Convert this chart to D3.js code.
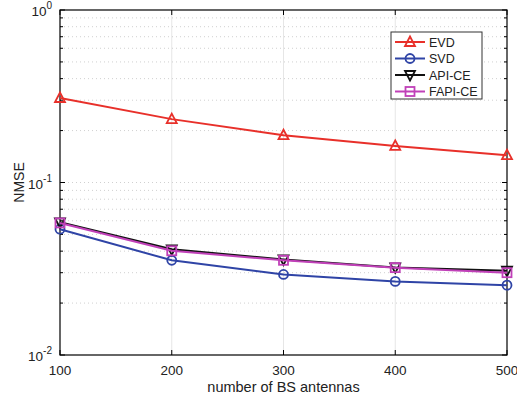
<!DOCTYPE html>
<html>
<head>
<meta charset="utf-8">
<script src="https://d3js.org/d3.v7.min.js"></script>
<style>
  body { margin: 0; background: #fff; }
  text { font-family: "Liberation Sans", Arial, sans-serif; }
</style>
</head>
<body>
<div id="chart"></div>
<script>
// data
var antennas = [100, 200, 300, 400, 500];
var evd   = [0.309, 0.233, 0.188, 0.163, 0.144];
var svd   = [0.0536, 0.0354, 0.0293, 0.0267, 0.0254];
var apice = [0.0588, 0.0410, 0.0358, 0.0322, 0.0308];
var fapi  = [0.0583, 0.0402, 0.0354, 0.0321, 0.0300];
var seriesNames = ["EVD", "SVD", "API-CE", "FAPI-CE"];
var xTicks = [100, 200, 300, 400, 500];
var yTicks = [1e-2, 1e-1, 1];
var yTickLabels = [["10", "-2"], ["10", "-1"], ["10", "0"]];

var W = 517, H = 398;
var margin = {top: 10, right: 10, bottom: 43, left: 60};
var width = W - margin.left - margin.right,
    height = H - margin.top - margin.bottom;

var svg = d3.select("#chart").append("svg")
  .attr("width", W).attr("height", H);
var g = svg.append("g")
  .attr("transform", "translate(" + margin.left + "," + margin.top + ")");

var x = d3.scaleLinear().domain([100, 500]).range([0, width]);
var y = d3.scaleLog().domain([1e-2, 1]).range([height, 0]);

// minor log ticks
var minor = [];
[1e-2, 1e-1].forEach(function(d) {
  for (var k = 2; k <= 9; k++) minor.push(d * k);
});

// grid
g.selectAll(".vgrid").data(xTicks.slice(1, -1)).enter().append("line")
  .attr("x1", function(d) { return x(d); }).attr("x2", function(d) { return x(d); })
  .attr("y1", 0).attr("y2", height)
  .attr("stroke", "#e6e6e6").attr("stroke-width", 1);
g.selectAll(".hgrid").data(minor.concat([1e-1])).enter().append("line")
  .attr("x1", 0).attr("x2", width)
  .attr("y1", function(d) { return y(d); }).attr("y2", function(d) { return y(d); })
  .attr("stroke", "#d0d0d0").attr("stroke-width", 1).attr("stroke-dasharray", "1,3");

// box with ticks
g.append("rect").attr("x", 0).attr("y", 0).attr("width", width).attr("height", height)
  .attr("fill", "none").attr("stroke", "#000").attr("stroke-width", 1.2);

var majorLen = 5, minorLen = 3;
xTicks.forEach(function(d) {
  g.append("line").attr("x1", x(d)).attr("x2", x(d)).attr("y1", height).attr("y2", height - majorLen).attr("stroke", "#000");
  g.append("line").attr("x1", x(d)).attr("x2", x(d)).attr("y1", 0).attr("y2", majorLen).attr("stroke", "#000");
});
minor.concat(yTicks).forEach(function(d) {
  var len = yTicks.indexOf(d) >= 0 ? majorLen : minorLen;
  g.append("line").attr("x1", 0).attr("x2", len).attr("y1", y(d)).attr("y2", y(d)).attr("stroke", "#000");
  g.append("line").attr("x1", width).attr("x2", width - len).attr("y1", y(d)).attr("y2", y(d)).attr("stroke", "#000");
});

// tick labels
g.selectAll(".xlab").data(xTicks).enter().append("text")
  .attr("x", function(d) { return x(d); })
  .attr("y", height + 20)
  .attr("text-anchor", "middle")
  .attr("font-size", 13.5).attr("fill", "#222")
  .text(function(d) { return d; });

yTicks.forEach(function(d, i) {
  var t = g.append("text")
    .attr("x", -8).attr("y", y(d) + 6)
    .attr("text-anchor", "end")
    .attr("font-size", 13.5).attr("fill", "#222");
  t.append("tspan").text(yTickLabels[i][0]);
  t.append("tspan").attr("dy", -7).attr("font-size", 10).text(yTickLabels[i][1]);
});

// axis titles
svg.append("text")
  .attr("x", margin.left + width / 2).attr("y", H - 6)
  .attr("text-anchor", "middle").attr("font-size", 14.5).attr("fill", "#222")
  .text("number of BS antennas");
svg.append("text")
  .attr("transform", "translate(24," + (margin.top + y(0.1)) + ")rotate(-90)")
  .attr("text-anchor", "middle").attr("font-size", 14).attr("fill", "#222")
  .text("NMSE");

// series
var colors = ["#e8302a", "#2f44a6", "#111111", "#c040b8"];
var markers = ["tri", "circle", "tridown", "square"];
var allData = [evd, svd, apice, fapi];

function drawMarker(sel, type, cx, cy, color) {
  var s = 4.5;
  if (type == "circle") {
    sel.append("circle").attr("cx", cx).attr("cy", cy).attr("r", 4.5)
      .attr("fill", "none").attr("stroke", color).attr("stroke-width", 1.8);
  } else if (type == "square") {
    sel.append("rect").attr("x", cx - 4.5).attr("y", cy - 4.5).attr("width", 9).attr("height", 9)
      .attr("fill", "none").attr("stroke", color).attr("stroke-width", 1.8);
  } else if (type == "tri") {
    sel.append("path")
      .attr("d", "M" + cx + "," + (cy - s - 1) + "L" + (cx + s + 0.5) + "," + (cy + s - 0.5) + "L" + (cx - s - 0.5) + "," + (cy + s - 0.5) + "Z")
      .attr("fill", "none").attr("stroke", color).attr("stroke-width", 1.8);
  } else {
    sel.append("path")
      .attr("d", "M" + cx + "," + (cy + s + 1) + "L" + (cx + s + 0.5) + "," + (cy - s + 0.5) + "L" + (cx - s - 0.5) + "," + (cy - s + 0.5) + "Z")
      .attr("fill", "none").attr("stroke", color).attr("stroke-width", 1.8);
  }
}

var line = d3.line()
  .x(function(d, i) { return x(antennas[i]); })
  .y(function(d) { return y(d); });

allData.forEach(function(vals, k) {
  g.append("path").datum(vals)
    .attr("d", line)
    .attr("fill", "none").attr("stroke", colors[k]).attr("stroke-width", 2);
  vals.forEach(function(v, i) {
    drawMarker(g, markers[k], x(antennas[i]), y(v), colors[k]);
  });
});

// legend
var lg = svg.append("g").attr("transform", "translate(391,32)");
lg.append("rect").attr("x", 0).attr("y", 0).attr("width", 91).attr("height", 67)
  .attr("fill", "#fff").attr("stroke", "#333").attr("stroke-width", 1);
seriesNames.forEach(function(name, k) {
  var yy = 10 + k * 16.5;
  lg.append("line").attr("x1", 4).attr("x2", 34).attr("y1", yy).attr("y2", yy)
    .attr("stroke", colors[k]).attr("stroke-width", 2);
  drawMarker(lg, markers[k], 19, yy, colors[k]);
  lg.append("text").attr("x", 38).attr("y", yy + 4.5)
    .attr("font-size", 12.5).attr("fill", "#222").text(name);
});
</script>
</body>
</html>
